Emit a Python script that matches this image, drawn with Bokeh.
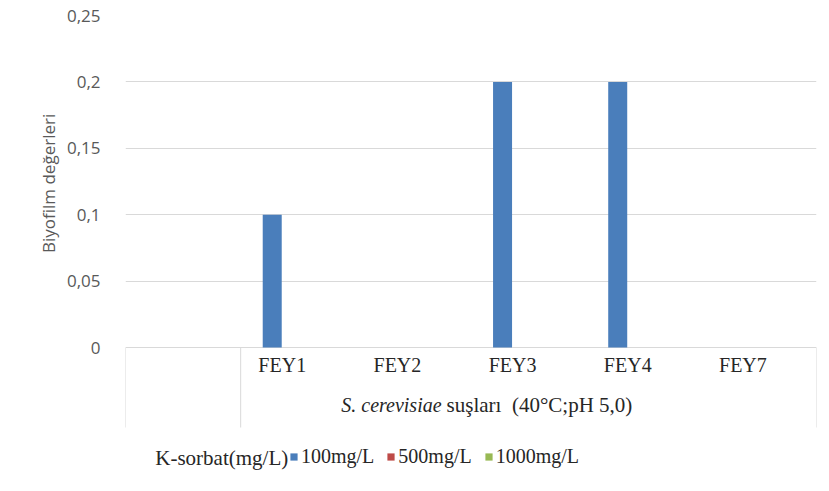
from bokeh.plotting import figure
from bokeh.models import (ColumnDataSource, FactorRange, Range1d, FixedTicker, Legend,
                          LegendItem, Title)
from bokeh.transform import dodge
from bokeh.core.properties import value
from bokeh.embed import file_html
from bokeh.resources import INLINE

# --- data -------------------------------------------------------------
strains = ["FEY1", "FEY2", "FEY3", "FEY4", "FEY7"]
series_names = ["100mg/L", "500mg/L", "1000mg/L"]
k100 = [0.1, 0.0, 0.2, 0.2, 0.0]
k500 = [0.0, 0.0, 0.0, 0.0, 0.0]
k1000 = [0.0, 0.0, 0.0, 0.0, 0.0]
y_ticks = [0, 0.05, 0.1, 0.15, 0.2, 0.25]
y_tick_labels = ["0", "0,05", "0,1", "0,15", "0,2", "0,25"]
legend_title = "K-sorbat(mg/L)"
group_italic = "S. cerevisiae"
group_rest = "suşları\u00a0 (40°C;pH 5,0)"
y_title = "Biyofilm değerleri"

colors = ["#4a7ebb", "#be4b48", "#98b954"]

# --- layout constants ---------------------------------------------------
W, H = 829, 491
LEFT, RIGHT, TOP = 125, 13, 15
PLOT_PX = 332                      # pixel height from 0 to 0.25
unit_px = PLOT_PX / max(y_ticks)   # pixels per data unit
below_px = H - TOP - PLOT_PX       # table + legend area under the baseline
y_start = -below_px / unit_px

factors = [" "] + strains          # leading empty slot of the category table

src = ColumnDataSource(dict(strain=strains, k100=k100, k500=k500, k1000=k1000))

p = figure(width=W, height=H, x_range=FactorRange(*factors),
           y_range=Range1d(y_start, max(y_ticks)),
           output_backend="svg", toolbar_location=None,
           min_border_left=LEFT, min_border_right=RIGHT,
           min_border_top=TOP, min_border_bottom=0)
p.outline_line_color = None
p.background_fill_color = "white"
p.border_fill_color = "white"

# --- bars ---------------------------------------------------------------
offsets = [-0.226, 0.0, 0.226]
bar_w = 0.165
renderers = []
for col, off, c in zip(["k100", "k500", "k1000"], offsets, colors):
    r = p.vbar(x=dodge("strain", off, range=p.x_range), top=col, width=bar_w,
               source=src, fill_color=c, line_color=None)
    renderers.append(r)

# --- axes and grid ------------------------------------------------------
p.xaxis.visible = False
p.xgrid.visible = False

ticker = FixedTicker(ticks=y_ticks)
p.yaxis.ticker = ticker
p.ygrid.ticker = ticker
p.ygrid.grid_line_color = "#d9d9d9"
p.ygrid.grid_line_width = 1
p.yaxis.major_label_overrides = {t: s for t, s in zip(y_ticks, y_tick_labels)}
p.yaxis.axis_line_color = None
p.yaxis.major_tick_line_color = None
p.yaxis.minor_tick_line_color = None
p.yaxis.major_label_standoff = 19
p.yaxis.major_label_text_font = "Open Sans"
p.yaxis.major_label_text_font_size = "17px"
p.yaxis.major_label_text_color = "#595959"

# value-axis title, placed alongside the 0 .. 0.25 span
title_len_px = 143
title_bottom = TOP + PLOT_PX / 2 + title_len_px / 2
p.add_layout(Title(text=y_title, align="left", offset=H - title_bottom, standoff=7,
                   text_font="Open Sans", text_font_size="17px",
                   text_font_style="normal", text_color="#595959"), "left")

# --- category table below the baseline -----------------------------------
table_px = 80
n = len(factors)
p.segment(x0=[0, 1, n], y0=[0, 0, 0], x1=[0, 1, n],
          y1=[-table_px / unit_px] * 3, line_color="#d9d9d9", line_width=1)

serif = value("Liberation Serif")
p.text(x=strains, y=[0] * len(strains), text=strains, x_offset=-16, y_offset=17,
       text_align="center", text_baseline="middle", text_font=serif,
       text_font_size="20px", text_color="#262626")

group_center = 1 + len(strains) / 2
p.text(x=[group_center], y=[0], text=[group_italic], x_offset=-87, y_offset=57,
       text_align="right", text_baseline="middle", text_font=serif,
       text_font_style="italic", text_font_size="20px", text_color="#262626")
p.text(x=[group_center], y=[0], text=[group_rest], x_offset=-82, y_offset=57,
       text_align="left", text_baseline="middle", text_font=serif,
       text_font_size="21px", text_color="#262626")

# --- legend ---------------------------------------------------------------
p.text(x=[strains[0]], y=[0], text=[legend_title], x_offset=-10, y_offset=110,
       text_align="right", text_baseline="middle", text_font=serif,
       text_font_size="21px", text_color="#262626")

legend = Legend(items=[LegendItem(label=s, renderers=[r]) for s, r in zip(series_names, renderers)],
                orientation="horizontal", location=(164, 23),
                glyph_width=9, glyph_height=9, label_standoff=3, spacing=12,
                padding=0, margin=0, border_line_color=None,
                background_fill_alpha=0,
                label_text_font="Liberation Serif", label_text_font_size="20px",
                label_text_color="#262626")
p.add_layout(legend)

open("out.html", "w").write(file_html(p, INLINE))
